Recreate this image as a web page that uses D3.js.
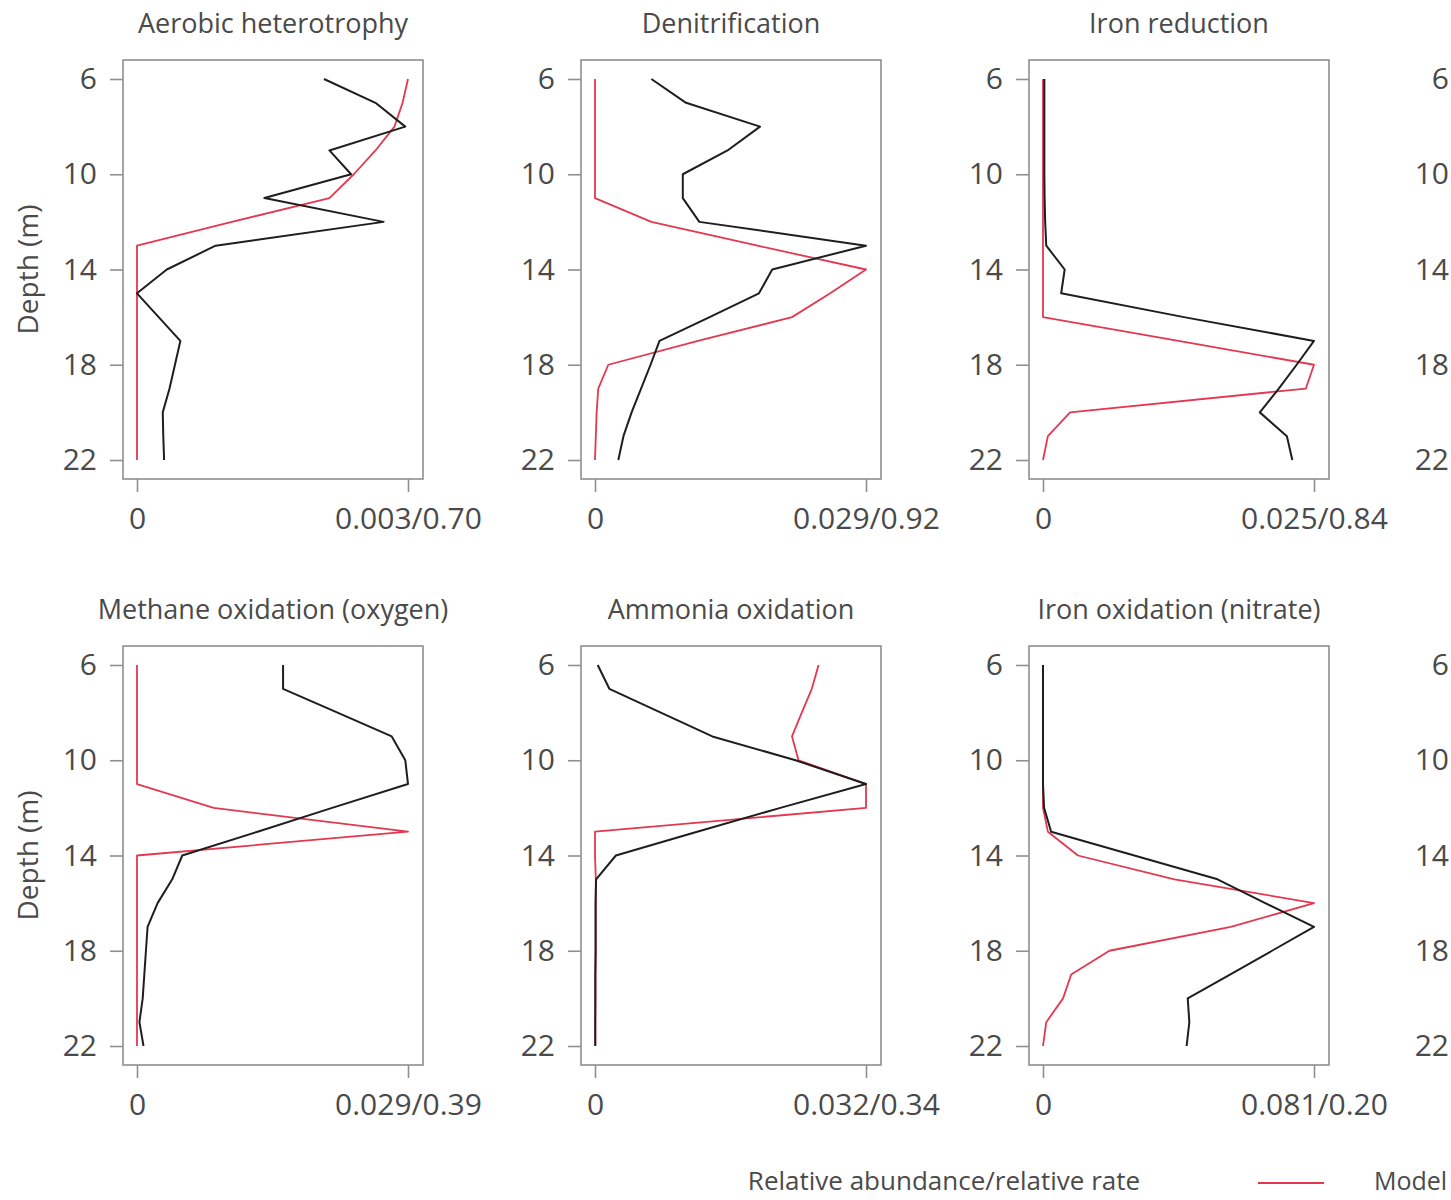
<!DOCTYPE html>
<html>
<head>
<meta charset="utf-8">
<script src="https://cdn.jsdelivr.net/npm/d3@7"></script>
<style>
  html, body { margin: 0; padding: 0; background: #fff; }
  svg { display: block; }
  text { font-family: "Open Sans", "DejaVu Sans", sans-serif; fill: #4a4a4a; }
</style>
</head>
<body>
<svg id="chart" width="1451" height="1200"></svg>
<script>
// ---- data ----
const depths = [6, 7, 8, 9, 10, 11, 12, 13, 14, 15, 16, 17, 18, 19, 20, 21, 22];
const depthTicks = [6, 10, 14, 18, 22];
const panelTitles = [
  "Aerobic heterotrophy", "Denitrification", "Iron reduction",
  "Methane oxidation (oxygen)", "Ammonia oxidation", "Iron oxidation (nitrate)"
];
const maxLabels = ["0.003/0.70", "0.029/0.92", "0.025/0.84", "0.029/0.39", "0.032/0.34", "0.081/0.20"];

// black = data (relative abundance), red = model (relative rate); scaled 0..1
const aerobicData   = [0.69, 0.88, 0.99, 0.71, 0.79, 0.47, 0.91, 0.29, 0.11, 0.0, 0.08, 0.16, 0.14, 0.12, 0.095, 0.097, 0.10];
const aerobicModel  = [1.0, 0.98, 0.95, 0.88, 0.80, 0.71, 0.35, 0.0, 0, 0, 0, 0, 0, 0, 0, 0, 0];
const denitData     = [0.208, 0.336, 0.609, 0.489, 0.324, 0.324, 0.385, 1.0, 0.654, 0.605, 0.423, 0.238, 0.205, 0.17, 0.135, 0.105, 0.086];
const denitModel    = [0, 0, 0, 0, 0, 0, 0.208, 0.60, 1.0, 0.868, 0.727, 0.38, 0.049, 0.012, 0.006, 0.003, 0.0];
const ironRedData   = [0.005, 0.005, 0.005, 0.005, 0.005, 0.006, 0.008, 0.012, 0.08, 0.067, 0.52, 1.0, 0.936, 0.87, 0.80, 0.90, 0.92];
const ironRedModel  = [0, 0, 0, 0, 0, 0, 0, 0, 0, 0, 0, 0.5, 1.0, 0.97, 0.10, 0.018, 0];
const methaneData   = [0.539, 0.539, 0.74, 0.94, 0.99, 1.0, 0.72, 0.445, 0.167, 0.13, 0.076, 0.039, 0.033, 0.027, 0.021, 0.009, 0.024];
const methaneModel  = [0, 0, 0, 0, 0, 0, 0.283, 1.0, 0, 0, 0, 0, 0, 0, 0, 0, 0];
const ammoniaData   = [0.01, 0.053, 0.243, 0.433, 0.74, 1.0, 0.684, 0.377, 0.077, 0.004, 0.002, 0.002, 0.002, 0.001, 0.001, 0.001, 0.001];
const ammoniaModel  = [0.825, 0.80, 0.763, 0.727, 0.751, 1.0, 1.0, 0.0, 0.0, 0.003, 0.003, 0.003, 0.003, 0.002, 0.002, 0.001, 0.001];
const ironOxData    = [0, 0, 0, 0, 0, 0, 0.004, 0.03, 0.337, 0.644, 0.82, 1.0, 0.845, 0.69, 0.534, 0.54, 0.53];
const ironOxModel   = [0, 0, 0, 0, 0, 0, 0, 0.018, 0.129, 0.485, 1.0, 0.693, 0.245, 0.104, 0.074, 0.012, 0];

const dataSeries  = [aerobicData, denitData, ironRedData, methaneData, ammoniaData, ironOxData];
const modelSeries = [aerobicModel, denitModel, ironRedModel, methaneModel, ammoniaModel, ironOxModel];

// ---- layout ----
const svg = d3.select("#chart");
const W = 1451, H = 1200;
svg.append("rect").attr("width", W).attr("height", H).attr("fill", "#fff");

const colLefts = [123, 581, 1029, 1475];
const rowTops = [60, 646];
const boxW = 300, boxH = 419;
const axisGray = "#8f8f8f";
const red = "#e3384f";
const black = "#1e1e1e";
const tickFont = "30px";

function drawPanel(col, row, idx) {
  const left = colLefts[col], top = rowTops[row];
  const g = svg.append("g").attr("transform", `translate(${left},${top})`);
  const x = d3.scaleLinear().domain([0, 1]).range([14, 285]);
  const y = d3.scaleLinear().domain([6, 22]).range([19, 400]);

  g.append("rect").attr("x", 0).attr("y", 0).attr("width", boxW).attr("height", boxH)
    .attr("fill", "none").attr("stroke", axisGray).attr("stroke-width", 1.6);

  const yAxis = g.append("g")
    .call(d3.axisLeft(y).tickValues(depthTicks).tickSize(13).tickPadding(13).tickFormat(d3.format("d")));
  yAxis.select(".domain").remove();
  yAxis.selectAll(".tick line").attr("stroke", axisGray).attr("stroke-width", 1.6);
  yAxis.selectAll(".tick text").style("font-size", tickFont).attr("fill", "#4a4a4a")
    .style("font-family", "'Open Sans', sans-serif");

  if (idx === null) return;

  const xAxis = g.append("g").attr("transform", `translate(0,${boxH})`)
    .call(d3.axisBottom(x).tickValues([0, 1]).tickSize(13).tickPadding(16)
      .tickFormat((d, i) => i === 0 ? "0" : maxLabels[idx]));
  xAxis.select(".domain").remove();
  xAxis.selectAll(".tick line").attr("stroke", axisGray).attr("stroke-width", 1.6);
  xAxis.selectAll(".tick text").style("font-size", tickFont).attr("fill", "#4a4a4a")
    .style("font-family", "'Open Sans', sans-serif");

  svg.append("text")
    .attr("x", left + boxW / 2).attr("y", top - 27)
    .attr("text-anchor", "middle").style("font-size", "27px")
    .text(panelTitles[idx]);

  const line = d3.line().x(d => x(d[1])).y(d => y(d[0]));
  const modelPts = depths.map((dp, i) => [dp, modelSeries[idx][i]]);
  const dataPts = depths.map((dp, i) => [dp, dataSeries[idx][i]]);
  g.append("path").datum(modelPts).attr("d", line)
    .attr("fill", "none").attr("stroke", red).attr("stroke-width", 1.8).attr("stroke-linejoin", "round");
  g.append("path").datum(dataPts).attr("d", line)
    .attr("fill", "none").attr("stroke", black).attr("stroke-width", 2).attr("stroke-linejoin", "round");

  if (col === 0) {
    svg.append("text")
      .attr("transform", `translate(${left - 85},${top + boxH / 2}) rotate(-90)`)
      .attr("text-anchor", "middle").style("font-size", "28px")
      .text("Depth (m)");
  }
}

let k = 0;
for (let r = 0; r < 2; r++) {
  for (let c = 0; c < 3; c++) { drawPanel(c, r, k); k++; }
  drawPanel(3, r, null);
}

// ---- bottom label and legend ----
svg.append("text").attr("x", 944).attr("y", 1190).attr("text-anchor", "middle")
  .style("font-size", "26px").text("Relative abundance/relative rate");
svg.append("line").attr("x1", 1258).attr("x2", 1324).attr("y1", 1183).attr("y2", 1183)
  .attr("stroke", red).attr("stroke-width", 2);
svg.append("text").attr("x", 1374).attr("y", 1190).style("font-size", "25px").text("Model");
</script>
</body>
</html>
